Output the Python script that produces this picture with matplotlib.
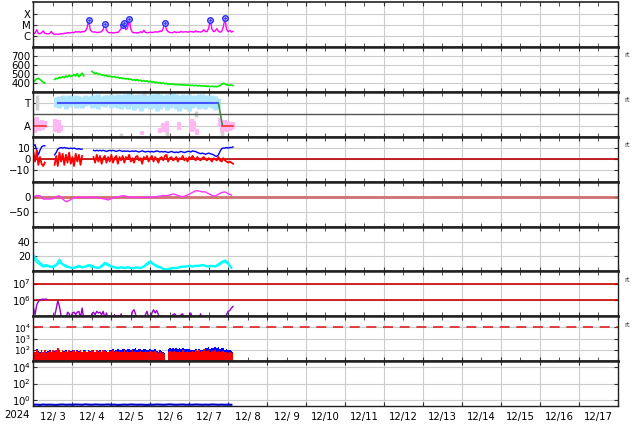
import numpy as np
import pandas as pd
import matplotlib
matplotlib.use('Agg')
import matplotlib.pyplot as plt
import matplotlib.dates as mdates
from matplotlib.ticker import FuncFormatter, NullLocator, NullFormatter

# ---- data (hours after 2024-12-03 00:00) ----
start = pd.Timestamp('2024-12-03 00:00')
hourly = np.arange(124)
two_hourly = np.arange(0, 124, 2)

# X-ray flux, log10(W/m2), hourly
xray_log = [
    -5.80, -5.75, -5.45, -5.78, -5.80, -5.72, -5.55, -5.78, -5.80, -5.82, -5.78, -5.60,
    -5.80, -5.85, -5.83, -5.86, -5.84, -5.80, -5.82, -5.75, -5.78, -5.70, -5.74, -5.72,
    -5.68, -5.72, -5.60, -5.66, -5.62, -5.68, -5.60, -5.64, -5.55, -5.30, -4.61, -5.45,
    -5.62, -5.66, -5.64, -5.70, -5.68, -5.66, -5.62, -5.40, -4.91, -5.50, -5.68, -5.72,
    -5.70, -5.74, -5.72, -5.68, -5.70, -5.55, -5.35, -5.00, -4.85, -5.45, -5.30, -4.52,
    -5.40, -5.68, -5.72, -5.70, -5.74, -5.72, -5.62, -5.70, -5.50, -5.68, -5.72, -5.70,
    -5.66, -5.70, -5.68, -5.62, -5.66, -5.64, -5.55, -5.62, -5.30, -4.82, -5.45, -5.62,
    -5.68, -5.72, -5.70, -5.62, -5.70, -5.66, -5.68, -5.60, -5.66, -5.64, -5.62, -5.66,
    -5.64, -5.60, -5.64, -5.66, -5.55, -5.64, -5.62, -5.66, -5.60, -5.45, -5.60, -5.62,
    -5.30, -4.61, -5.40, -5.62, -5.55, -5.35, -5.60, -5.66, -5.62, -5.20, -4.43, -5.40,
    -5.62, -5.50, -5.66, -5.60]
flare_hours = [34, 44, 55, 56, 59, 81, 109, 118]
flare_log = [-4.61, -4.91, -5.00, -4.85, -4.52, -4.82, -4.61, -4.43]

nan = np.nan
# solar wind speed km/s, hourly
wind = [
    414, 430, 448, 452, 440, 425, 408, 400, nan, nan, nan, nan,
    nan, 440, 452, 448, 465, 458, 470, 462, 478, 468, 485, 472,
    480, 495, 478, 505, 470, 490, 510, 480, nan, nan, nan, nan,
    530, 515, 505, 512, 495, 500, 488, 492, 480, 485, 472, 478,
    470, 468, 472, 460, 465, 455, 458, 450, 452, 445, 450, 440,
    445, 432, 438, 428, 440, 425, 432, 420, 428, 418, 425, 412,
    420, 410, 415, 405, 410, 400, 405, 395, 400, 392, 396, 388,
    392, 385, 390, 382, 386, 380, 384, 378, 382, 376, 380, 375,
    378, 372, 376, 370, 374, 368, 372, 366, 370, 365, 368, 362,
    366, 360, 364, 360, 362, 358, 365, 372, 385, 398, 392, 380,
    378, 375, 378, 372]

# IMF sector: T = 1, A = -1
toward_hours = [15, 114]
toward_val = [1, 1]
turn_hours = [114, 116.5]
turn_val = [1, -1]
away1_hours = [0, 8]
away2_hours = [116.5, 123]
away_val = [-1, -1]
band_hours = np.arange(14, 115, 2)
toward_hi = [1.55, 1.65, 1.70, 1.60, 1.75, 1.65, 1.70, 1.60, 1.55, 1.70,
             1.65, 1.75, 1.70, 1.80, 1.65, 1.70, 1.75, 1.85, 1.70, 1.80,
             1.75, 1.85, 1.90, 1.80, 1.75, 1.85, 1.80, 1.90, 1.75, 1.85,
             1.80, 1.90, 1.85, 1.75, 1.80, 1.85, 1.90, 1.80, 1.70, 1.85,
             1.75, 1.80, 1.70, 1.75, 1.80, 1.85, 1.75, 1.70, 1.75, 1.60,
             1.50]
toward_lo = [0.70, 0.55, 0.75, 0.50, 0.65, 0.80, 0.60, 0.70, 0.55, 0.75,
             0.85, 0.60, 0.70, 0.50, 0.75, 0.65, 0.80, 0.55, 0.70, 0.60,
             0.45, 0.65, 0.50, 0.70, 0.40, 0.60, 0.35, 0.55, 0.65, 0.45,
             0.60, 0.30, 0.50, 0.65, 0.40, 0.55, 0.70, 0.45, 0.35, 0.60,
             0.50, 0.30, 0.55, 0.65, 0.50, 0.60, 0.45, 0.70, 0.55, 0.40,
             0.60]
pink_hours = [0, 1, 2, 3, 4, 5, 6, 7, 13, 14, 16, 17, 67, 78, 80, 82, 90, 98, 99, 101,
              115, 116, 117, 118, 119, 120, 121, 122, 123]
pink_hi = [-0.3, -0.5, -0.2, -0.6, -0.7, -0.5, -0.8, -0.6, -0.4, -0.7, -0.5, -0.9,
           -1.5, -1.2, -0.8, -0.6, -0.7, -0.4, -0.6, -1.3,
           -0.3, -0.6, -0.7, -0.5, -0.8, -0.6, -0.7, -0.9, -0.7]
pink_lo = [-1.6, -1.7, -1.5, -1.4, -1.5, -1.3, -1.4, -1.2, -1.6, -1.2, -1.7, -1.5,
           -1.8, -1.7, -1.6, -1.7, -1.4, -1.6, -1.5, -1.8,
           -1.0, -1.7, -1.5, -1.4, -1.6, -1.3, -1.5, -1.4, -1.3]
gray_hours = [2, 54, 68, 82, 100, 116]
gray_lo = [0.4, -1.9, 1.6, -1.9, -0.2, -1.9]
gray_hi = [1.7, -1.7, 1.9, -1.6, 0.3, -1.5]

# IMF Bt / Bz (nT), hourly
bt = [
    12, 13, 8, 4, 8, 11, 12, 12, nan, nan, nan, nan,
    nan, 4, 6, 9, 10, 10.5, 10, 10.5, 10, 10, 9.5, 10,
    9.5, 10, 9.5, 9, 9.5, 9, 9, nan, nan, nan, nan, nan,
    nan, 8, 7.5, 8, 7.5, 8, 7.5, 8, 7.5, 7, 7.5, 8,
    7.5, 8, 7.5, 7, 7.5, 8, 7.5, 7, 7.5, 7, 7.5, 7,
    7, 7.5, 7, 7.5, 7, 6.5, 7, 7.5, 7, 6.5, 7, 7,
    6.5, 7, 6.5, 7, 7.5, 7, 6.5, 7, 6.5, 7, 6.5, 6,
    6.5, 7, 6.5, 6, 6.5, 6, 6.5, 7, 6.5, 6, 6.5, 7,
    7, 6.5, 7.5, 7, 7, 6, 5.5, 5, 5.5, 5, 4.5, 5,
    5.5, 5, 4.5, 4, 3, 2.5, 4, 7, 9.5, 10, 10, 10.5,
    10, 10.5, 10.5, 11]
bz = [
    6, -2, 8, -5, 2, -4, -6, -3, nan, nan, nan, nan,
    nan, -5, 3, -6, 6, -2, 5, -5, 4, -3, 6, -4,
    2, -6, 5, -2, 4, -5, 3, nan, nan, nan, nan, nan,
    nan, 2, -3, 4, -2, 3, -4, 1, 3, -3, 2, -2,
    4, -3, 1, 3, -4, 2, -1, 3, -3, 2, 0, 4,
    -2, 1, -3, 2, 3, -1, 1, -4, 2, 0, 3, -2,
    1, 3, -2, 2, 0, -3, 1, 2, -1, 3, 4, -2,
    1, 2, -1, 0, 2, -2, 1, 0, 3, -1, 1, -2,
    2, 0, 3, 1, -1, 2, 0, -1, 1, 2, 0, -1,
    1, 0, -2, 1, 0, -1, 2, -1, -2, 1, -1, -2,
    -3, -2, -3, -4]

# geomagnetic index (nT), every 2 hours
dst = [-1, 4, 3, -8, -8, -8, -7, 0, 3, -8, -17, -13,
       -6, -3, -2, -3, -2, -1, -3, -2, -4, -6, -8, -11,
       -7, -3, -1, 2, 3, 0, -2, -3, -2, -3, -2, -2,
       -2, -1, 0, 2, 4, 3, 6, 9, 6, 2, 0, 3,
       8, 14, 20, 19, 16, 16, 10, 4, 2, 8, 14, 16,
       10, 5]

# cyan pair, every 2 hours
cyan_a = [22, 16, 12, 8, 9, 7, 7, 9, 16, 10, 8, 6,
          5, 6, 8, 6, 7, 9, 8, 6, 5, 8, 12, 10,
          7, 6, 5, 6, 5, 6, 5, 5, 6, 5, 7, 11,
          14, 10, 8, 6, 4, 3, 4, 5, 5, 6, 7, 7,
          8, 7, 8, 8, 9, 8, 7, 8, 7, 10, 13, 15,
          12, 5]
cyan_b = [18, 12, 9, 6, 7, 6, 5, 8, 12, 9, 6, 5,
          4, 5, 6, 5, 6, 7, 6, 5, 4, 6, 10, 8,
          6, 5, 4, 5, 4, 5, 4, 4, 5, 4, 6, 9,
          12, 9, 6, 5, 3, 2, 3, 4, 4, 5, 6, 6,
          7, 6, 7, 7, 8, 7, 6, 7, 6, 8, 11, 13,
          10, 4]

# electron flux, log10, hourly
elec_log = [
    5.5, 5.1, 5.7, 5.9, 6.0, 6.03, 6.05, 6.03, 6.05, nan, nan, nan,
    nan, 5.0, 5.45, 5.95, 5.6, 5.05, 4.8, 4.8, 4.8, 5.25, 5.15, 4.9,
    5.2, 5.25, 5.1, 5.25, 5.3, 4.9, 5.5, 4.8, 4.8, 4.8, 4.8, 4.8,
    5.15, 5.25, 5.1, 5.3, 5.2, 5.25, 5.1, 5.3, 4.9, 5.2, 4.8, 4.8,
    4.8, 4.8, 5.1, 4.8, 4.8, 4.8, 5.15, 4.8, 4.8, 4.8, 4.8, 4.8,
    4.8, 5.3, 5.4, 5.1, 4.8, 4.8, 4.8, 4.8, 4.8, 5.1, 5.3, 4.9,
    4.8, 5.2, 5.4, 5.2, 5.35, 5.1, 4.8, 4.8, 4.8, 4.8, 4.8, 4.8,
    4.8, 4.8, 5.1, 5.15, 5.05, 4.8, 4.8, 5.1, 5.15, 4.8, 4.8, 4.8,
    4.8, 5.2, 4.8, 4.8, 4.8, 4.8, 4.8, 5.15, 4.8, 4.8, 4.8, 4.8,
    4.8, 4.8, 4.8, 4.8, 4.8, 4.8, 4.8, 4.8, 4.8, 4.8, 4.8, 5.1,
    5.3, 5.35, 5.5, 5.6]

# proton flux, log10, hourly (red / blue channels)
prot_red = [
    1.9, 1.8, 2.0, 1.85, 1.7, 1.9, 1.8, 1.95, 1.75, 1.85, 1.9, 1.8,
    2.0, 1.85, 1.95, 2.2, 1.9, 1.8, 2.0, 1.85, 1.9, 1.75, 1.95, 1.85,
    1.9, 2.0, 1.8, 1.9, 1.85, 2.0, 1.8, 1.9, 1.95, 1.8, 1.9, 1.85,
    2.0, 1.9, 1.8, 1.95, 1.85, 1.9, 1.8, 1.95, 1.9, 1.85, 1.8, 1.9,
    1.85, 1.95, 1.8, 1.9, 1.85, 1.9, 1.8, 1.85, 1.95, 1.8, 1.9, 1.85,
    1.8, 1.95, 1.85, 1.9, 1.8, 1.85, 1.9, 1.8, 1.85, 1.9, 1.8, 1.85,
    1.9, 1.8, 1.85, 1.9, 1.8, 1.75, 1.85, 1.8, 1.7, 1.6, nan, 1.85,
    1.9, 1.8, 1.85, 1.9, 1.8, 1.85, 1.9, 1.8, 1.95, 1.85, 1.8, 1.9,
    1.85, 1.8, 1.9, 1.85, 1.95, 1.8, 2.0, 1.85, 1.9, 2.05, 1.85, 1.9,
    1.95, 1.85, 1.9, 1.8, 1.95, 1.85, 1.9, 1.8, 1.85, 1.9, 1.8, 1.85,
    1.75, 1.8, 1.7, 1.75]
prot_blue = [
    1.95, 1.85, 2.05, 1.9, 1.8, 1.95, 1.85, 2.0, 1.8, 1.9, 1.95, 1.85,
    2.0, 1.9, 2.0, 2.1, 1.95, 1.85, 2.0, 1.9, 1.95, 1.85, 2.0, 1.9,
    1.95, 2.0, 1.85, 1.95, 1.9, 2.0, 1.85, 1.95, 2.0, 1.85, 1.95, 1.9,
    2.0, 1.95, 1.85, 2.0, 1.9, 1.95, 1.85, 2.0, 1.95, 1.9, 1.85, 1.95,
    1.95, 2.05, 1.9, 2.0, 2.1, 2.0, 1.95, 2.05, 2.1, 1.95, 2.05, 2.1,
    2.0, 2.1, 2.05, 2.15, 2.0, 2.1, 2.05, 2.0, 2.1, 2.05, 1.95, 2.0,
    2.05, 1.95, 2.0, 2.05, 1.9, 1.85, 1.95, 1.9, 1.8, 1.7, nan, 2.05,
    2.15, 2.1, 2.2, 2.1, 2.15, 2.05, 2.2, 2.1, 2.15, 2.1, 2.05, 2.1,
    2.05, 1.95, 2.0, 1.95, 2.05, 1.9, 2.05, 1.95, 2.0, 2.1, 2.2, 2.15,
    2.25, 2.1, 2.2, 2.15, 2.3, 2.2, 2.25, 2.1, 2.2, 2.15, 2.0, 2.05,
    1.95, 2.0, 1.9, 1.85]

# bottom channel, every 2 hours
low_flux = [0.25, 0.26, 0.24, 0.27, 0.25, 0.26, 0.25, 0.24, 0.26, 0.27, 0.25, 0.26,
            0.25, 0.27, 0.26, 0.25, 0.28, 0.26, 0.25, 0.27, 0.26, 0.25, 0.26, 0.27,
            0.25, 0.26, 0.24, 0.25, 0.26, 0.25, 0.27, 0.26, 0.25, 0.26, 0.25, 0.24,
            0.26, 0.25, 0.27, 0.26, 0.25, 0.26, 0.28, 0.26, 0.25, 0.26, 0.27, 0.25,
            0.26, 0.25, 0.27, 0.26, 0.25, 0.26, 0.25, 0.27, 0.26, 0.25, 0.26, 0.25,
            0.26, 0.25]


def t(hours):
    return start + pd.to_timedelta(np.asarray(hours, dtype=float), unit='h')


FS = 7.3
fig = plt.figure(figsize=(6.34, 4.24), dpi=100)
axes = fig.subplots(9, 1, sharex=True, gridspec_kw=dict(hspace=0))
fig.subplots_adjust(left=0.0528, right=0.974, top=0.9946, bottom=0.0425)

# 1: X-ray class
ax = axes[0]
ax.set_yscale('log')
ax.plot(t(hourly), 10 ** np.array(xray_log), color='#ff00ff', lw=1)
ax.plot(t(flare_hours), 10 ** np.array(flare_log), 'o', ms=4, mfc='#c0c0ff', mec='#2a2aff', mew=1)
ax.plot(t(flare_hours), 10 ** np.array(flare_log), '.', ms=1.5, color='#2a2aff')
ax.set_ylim(1e-7, 1e-3)
ax.set_yticks([1e-6, 1e-5, 1e-4], ['C', 'M', 'X'])

# 2: solar wind
ax = axes[1]
ax.plot(t(hourly), wind, color='#00ee00', lw=1.2)
ax.set_ylim(300, 800)
ax.set_yticks([400, 500, 600, 700])

# 3: sector
ax = axes[2]
ax.vlines(t(band_hours), toward_lo, toward_hi, colors='#aee6ff', lw=3.5)
ax.vlines(t(pink_hours), pink_lo, pink_hi, colors='#ffb8f2', lw=3)
ax.vlines(t(gray_hours), gray_lo, gray_hi, colors='#d0d0d0', lw=2.5)
ax.axhline(0, color='#555555', lw=1)
ax.plot(t(toward_hours), toward_val, color='#4455ff', lw=1.5)
ax.plot(t(turn_hours), turn_val, color='#44884c', lw=1.2)
ax.plot(t(away1_hours), away_val, color='#ee3333', lw=1.2)
ax.plot(t(away2_hours), away_val, color='#ee3333', lw=1.2)
ax.set_ylim(-2, 2)
ax.set_yticks([-1, 1], ['A', 'T'])

# 4: IMF
ax = axes[3]
ax.axhline(0, color='#bb0000', lw=1.2)
ax.plot(t(hourly), bt, color='#0000ff', lw=1)
ax.plot(t(hourly), bz, color='#ff0000', lw=1.3)
ax.set_ylim(-20, 20)
ax.set_yticks([-10, 0, 10])

# 5: index
ax = axes[4]
ax.axhline(0, color='#cc6666', lw=2.2, alpha=0.85)
ax.plot(t(two_hourly), dst, color='#ff33ff', lw=1)
ax.set_ylim(-100, 50)
ax.set_yticks([-50, 0])

# 6: cyan pair
ax = axes[5]
ax.plot(t(two_hourly), cyan_a, color='#00ffff', lw=1.2)
ax.plot(t(two_hourly), cyan_b, color='#00ffff', lw=1.2)
ax.set_ylim(0, 60)
ax.set_yticks([20, 40])

# 7: electrons
ax = axes[6]
ax.set_yscale('log')
ax.axhline(1e6, color='#cc0000', lw=1.2)
ax.axhline(1e7, color='#cc0000', lw=1.2)
ax.plot(t(hourly), 10 ** np.array(elec_log), color='#9900cc', lw=1)
ax.set_ylim(1e5, 10 ** 7.74)
ax.set_yticks([1e6, 1e7])

# 8: protons
ax = axes[7]
ax.set_yscale('log')
ax.fill_between(t(hourly), 10, 10 ** np.array(prot_blue), color='#0000ff', step='mid', lw=0)
ax.fill_between(t(hourly), 10, 10 ** np.array(prot_red), color='#ff0000', step='mid', lw=0)
ax.axhline(1e4, color='#dd2222', lw=1.2, dashes=(6, 4))
ax.set_ylim(1e1, 1e5)
ax.set_yticks([1e2, 1e3, 1e4])

# 9: bottom channel
ax = axes[8]
ax.set_yscale('log')
ax.plot(t(two_hourly), low_flux, color='#0000cc', lw=1.5)
ax.set_ylim(10 ** -0.75, 10 ** 4.75)
ax.set_yticks([1e0, 1e2, 1e4])

for i, ax in enumerate(axes):
    ax.grid(True, color='#cccccc', lw=0.8)
    ax.set_axisbelow(True)
    ax.yaxis.set_minor_locator(NullLocator())
    ax.tick_params(axis='both', which='both', direction='in', length=3, labelsize=FS,
                   pad=2, top=True, right=True, color='#333333')
    for s in ['left', 'right']:
        ax.spines[s].set_linewidth(1.0)
        ax.spines[s].set_color('#222222')
    ax.spines['top'].set_linewidth(1.2 if i == 0 else 1.8)
    ax.spines['bottom'].set_linewidth(1.0 if i == 8 else 1.8)
    ax.spines['top'].set_color('#222222')
    ax.spines['bottom'].set_color('#222222')
    if i in (1, 2, 3, 6, 7):
        ax.text(1.012, 0.77, 'rt', transform=ax.transAxes, fontsize=5, color='#444444')

# the proton panel has three decades packed tightly
axes[7].tick_params(axis='y', labelsize=6.4)

ax = axes[-1]
ax.set_xlim(pd.Timestamp('2024-12-03'), pd.Timestamp('2024-12-18'))
ax.xaxis.set_major_locator(mdates.DayLocator())
ax.xaxis.set_major_formatter(NullFormatter())
ax.xaxis.set_minor_locator(mdates.HourLocator(byhour=12))


def day_label(x, pos):
    d = mdates.num2date(x)
    return f"{d.month}/{d.day:2d}"


ax.xaxis.set_minor_formatter(FuncFormatter(day_label))
ax.tick_params(axis='x', which='minor', length=0, pad=4, labelsize=FS)
fig.text(17 / 634, 0.021, '2024', ha='center', va='center', fontsize=FS)

fig.savefig('out.png', dpi=100)
